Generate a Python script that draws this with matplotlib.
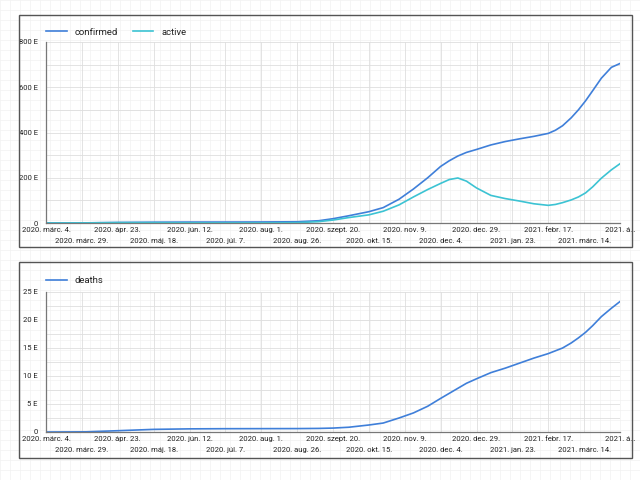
import numpy as np
import pandas as pd
import matplotlib
matplotlib.use("Agg")
import matplotlib.pyplot as plt
from matplotlib.patches import Rectangle
from matplotlib.ticker import FuncFormatter, MultipleLocator

plt.rcParams['font.family'] = ['Roboto', 'DejaVu Sans']

# data (thousands, "E" = ezer)
dates = ["2020-03-04", "2020-04-01", "2020-04-23", "2020-05-18", "2020-06-12", "2020-07-07",
         "2020-08-01", "2020-08-26", "2020-09-10", "2020-09-20", "2020-10-01", "2020-10-15",
         "2020-10-25", "2020-11-05", "2020-11-15", "2020-11-25", "2020-12-04", "2020-12-10",
         "2020-12-16", "2020-12-22", "2020-12-29", "2021-01-08", "2021-01-18", "2021-01-28",
         "2021-02-07", "2021-02-17", "2021-02-22", "2021-02-27", "2021-03-05", "2021-03-10",
         "2021-03-15", "2021-03-20", "2021-03-26", "2021-04-02", "2021-04-08"]
confirmed = [0, 0.6, 2.3, 3.5, 4.1, 4.2, 4.5, 5.5, 10, 19, 32, 50, 68, 105, 150, 200, 250, 275,
             296, 312, 325, 345, 360, 372, 383, 396, 410, 430, 465, 500, 540, 585, 640, 688, 705]
active = [0, 0.5, 1.7, 1.5, 0.8, 0.5, 0.5, 1.5, 6, 13, 24, 36, 52, 80, 115, 148, 175, 192,
          199, 185, 155, 122, 108, 97, 85, 78, 82, 90, 102, 115, 133, 160, 198, 235, 262]
deaths = [0, 0.03, 0.23, 0.47, 0.56, 0.59, 0.60, 0.61, 0.64, 0.70, 0.85, 1.25, 1.6, 2.5, 3.4,
          4.6, 6.0, 6.9, 7.8, 8.7, 9.5, 10.6, 11.4, 12.3, 13.2, 14.0, 14.5, 15.0, 15.9, 16.8,
          17.8, 19.0, 20.6, 22.1, 23.3]
tick_labels = ["2020. márc. 4.", "2020. márc. 29.", "2020. ápr. 23.", "2020. máj. 18.",
               "2020. jún. 12.", "2020. júl. 7.", "2020. aug. 1.", "2020. aug. 26.",
               "2020. szept. 20.", "2020. okt. 15.", "2020. nov. 9.", "2020. dec. 4.",
               "2020. dec. 29.", "2021. jan. 23.", "2021. febr. 17.", "2021. márc. 14.",
               "2021. á…"]

x = pd.to_datetime(dates)
tick_dates = pd.date_range("2020-03-04", periods=len(tick_labels), freq="25D")

c_blue = '#3f7fd9'
c_teal = '#3cc3d3'
text_c = '#222222'
grid_c = '#dedede'

fig = plt.figure(figsize=(6.4, 4.8), dpi=100)

# graph paper background
bg = fig.add_axes([0, 0, 1, 1], zorder=-5)
bg.set_xlim(0, 640)
bg.set_ylim(0, 480)
for v in np.arange(0, 641, 10):
    bg.axvline(v, color='#f2f2f2', lw=0.5)
for v in np.arange(0, 481, 10):
    bg.axhline(v, color='#f2f2f2', lw=0.5)
bg.axis('off')

# panel frames
for (x0, y0, x1, y1) in [(19, 15, 632, 247), (19, 262, 632, 458)]:
    fig.patches.append(Rectangle((x0 / 640, 1 - y1 / 480), (x1 - x0) / 640, (y1 - y0) / 480,
                                 transform=fig.transFigure, fill=False, ec='#555555', lw=1.0))


def style_axes(ax, ymax, major, minor):
    ax.set_facecolor('none')
    ax.set_xlim(tick_dates[0], tick_dates[-1])
    ax.set_ylim(0, ymax)
    ax.set_xticks(tick_dates[::2])
    ax.set_xticklabels(tick_labels[::2])
    ax.set_xticks(tick_dates[1::2], minor=True)
    ax.set_xticklabels(tick_labels[1::2], minor=True)
    ax.tick_params(axis='x', which='major', length=0, pad=3, labelsize=5.5, colors=text_c)
    ax.tick_params(axis='x', which='minor', length=0, pad=11, labelsize=5.5, colors=text_c)
    ax.yaxis.set_major_locator(MultipleLocator(major))
    ax.yaxis.set_minor_locator(MultipleLocator(minor))
    ax.yaxis.set_major_formatter(FuncFormatter(lambda v, p: "0" if v == 0 else f"{v:g} E"))
    ax.tick_params(axis='y', which='both', length=0, pad=6, labelsize=5.5, colors=text_c)
    ax.grid(True, which='both', color=grid_c, lw=0.6)
    ax.set_axisbelow(True)
    for s in ['top', 'right']:
        ax.spines[s].set_visible(False)
    for s in ['left', 'bottom']:
        ax.spines[s].set_color('#777777')
        ax.spines[s].set_linewidth(0.9)


ax1 = fig.add_axes([46 / 640, 1 - 223 / 480, 574 / 640, 181 / 480])
ax1.plot(x, confirmed, color=c_blue, lw=1.2, label='confirmed')
ax1.plot(x, active, color=c_teal, lw=1.2, label='active')
style_axes(ax1, 800, 200, 100)
ax1.legend(loc='lower left', bbox_to_anchor=(0, 1.03), ncol=2, frameon=False, fontsize=6.8,
           handlelength=2.2, columnspacing=1.6, borderaxespad=0, borderpad=0, labelcolor=text_c)

ax2 = fig.add_axes([46 / 640, 1 - 432 / 480, 574 / 640, 140 / 480])
ax2.plot(x, deaths, color=c_blue, lw=1.2, label='deaths')
style_axes(ax2, 25, 5, 2.5)
ax2.legend(loc='lower left', bbox_to_anchor=(0, 1.05), frameon=False, fontsize=6.8,
           handlelength=2.2, borderaxespad=0, borderpad=0, labelcolor=text_c)

fig.savefig('out.png', dpi=100)
